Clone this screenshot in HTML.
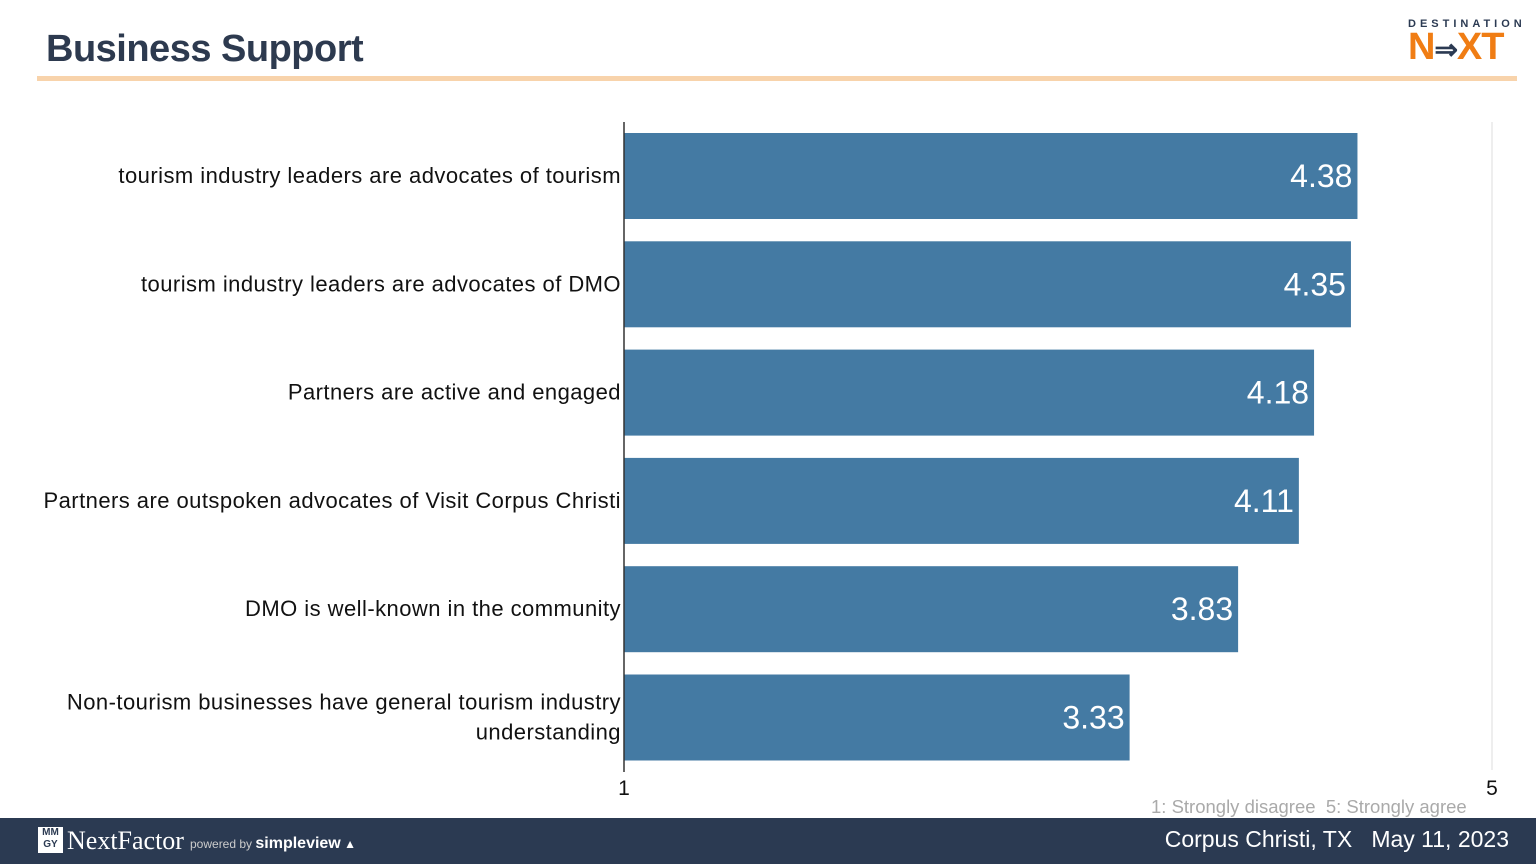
<!DOCTYPE html>
<html><head><meta charset="utf-8"><style>
body{margin:0;width:1536px;height:864px;position:relative;background:#fff;font-family:"Liberation Sans",sans-serif;overflow:hidden}
.abs{position:absolute}
</style></head><body>
<div class="abs" style="left:46px;top:28px;font-size:38px;font-weight:bold;color:#2d3a4f;letter-spacing:-0.5px">Business Support</div>
<div class="abs" style="left:37px;top:76px;width:1480px;height:5px;background:#f8d3ab"></div>
<div class="abs" style="left:1408px;top:18px;width:112px">
 <div style="font-size:11px;letter-spacing:4px;color:#2b3a52;font-weight:bold">DESTINATION</div>
 <div style="font-size:38px;font-weight:bold;color:#f07d14;line-height:34px;letter-spacing:-1px">N<span style="color:#2b3a52;font-size:28px">⇒</span>XT</div>
</div>
<svg class="abs" style="left:0;top:0" width="1536" height="864">
<g id="g"></g>
</svg>
<div class="abs" style="left:1151px;top:796px;font-size:18.5px;color:#aaa">1: Strongly disagree&nbsp; 5: Strongly agree</div>
<div class="abs" style="left:0;top:818px;width:1536px;height:46px;background:#2b3a52">
 <div style="position:absolute;left:38px;top:9px;width:25px;height:26px;background:#fff;color:#2b3a52;font-size:10px;font-weight:bold;line-height:12px;text-align:center">MM<br>GY</div>
 <div style="position:absolute;left:67px;top:8px;color:#fff;font-family:'Liberation Serif',serif;font-size:26px">NextFactor</div>
 <div style="position:absolute;left:190px;top:17px;color:#ccc;font-size:12px">powered by <b style="color:#fff;font-size:16px">simpleview</b> <span style="color:#fff">▲</span></div>
 <div style="position:absolute;right:27px;top:8px;color:#fff;font-size:23px">Corpus Christi, TX&nbsp;&nbsp; May 11, 2023</div>
</div>
<script>
const categories=["tourism industry leaders are advocates of tourism","tourism industry leaders are advocates of DMO","Partners are active and engaged","Partners are outspoken advocates of Visit Corpus Christi","DMO is well-known in the community","Non-tourism businesses have general tourism industry|understanding"];
const values=[4.38,4.35,4.18,4.11,3.83,3.33];
const ticks=[1,5];
const NS="http://www.w3.org/2000/svg",g=document.getElementById('g');
const x0=624,x1=1492,top0=122,pitch=108.3,bh=86;
const xs=v=>x0+(v-1)/(5-1)*(x1-x0);
function mk(t,a){const e=document.createElementNS(NS,t);for(const k in a)e.setAttribute(k,a[k]);g.appendChild(e);return e;}
const grid=mk('line',{x1:x1,x2:x1,y1:122,y2:770,stroke:'#ddd','stroke-width':1});


values.forEach((v,i)=>{
 const y=top0+11+i*pitch;
 const r=mk('rect',{x:x0,y:y,width:xs(v)-x0,height:bh,fill:'#447aa3'});
 
 
 const t=mk('text',{x:xs(v)-5,y:y+bh/2+11,'text-anchor':'end',fill:'#fff','font-size':32,'font-family':'Liberation Sans, sans-serif'});
 t.textContent=v.toFixed(2);
 
 
 const lines=categories[i].split('|');
 lines.forEach((ln,j)=>{
  const c=mk('text',{x:621,y:y+bh/2+7+(j-(lines.length-1)/2)*30,'text-anchor':'end',fill:'#111','font-size':22,'letter-spacing':0.45,'font-family':'Liberation Sans, sans-serif'});
  c.textContent=ln;
  
  
 });
});
const ax=mk('line',{x1:x0,x2:x0,y1:122,y2:772,stroke:'#333','stroke-width':1.5});


ticks.forEach(tk=>{
 const t=mk('text',{x:xs(tk),y:795,'text-anchor':'middle',fill:'#111','font-size':21,'font-family':'Liberation Sans, sans-serif'});
 t.textContent=tk;
 
 
});
</script>
</body></html>
